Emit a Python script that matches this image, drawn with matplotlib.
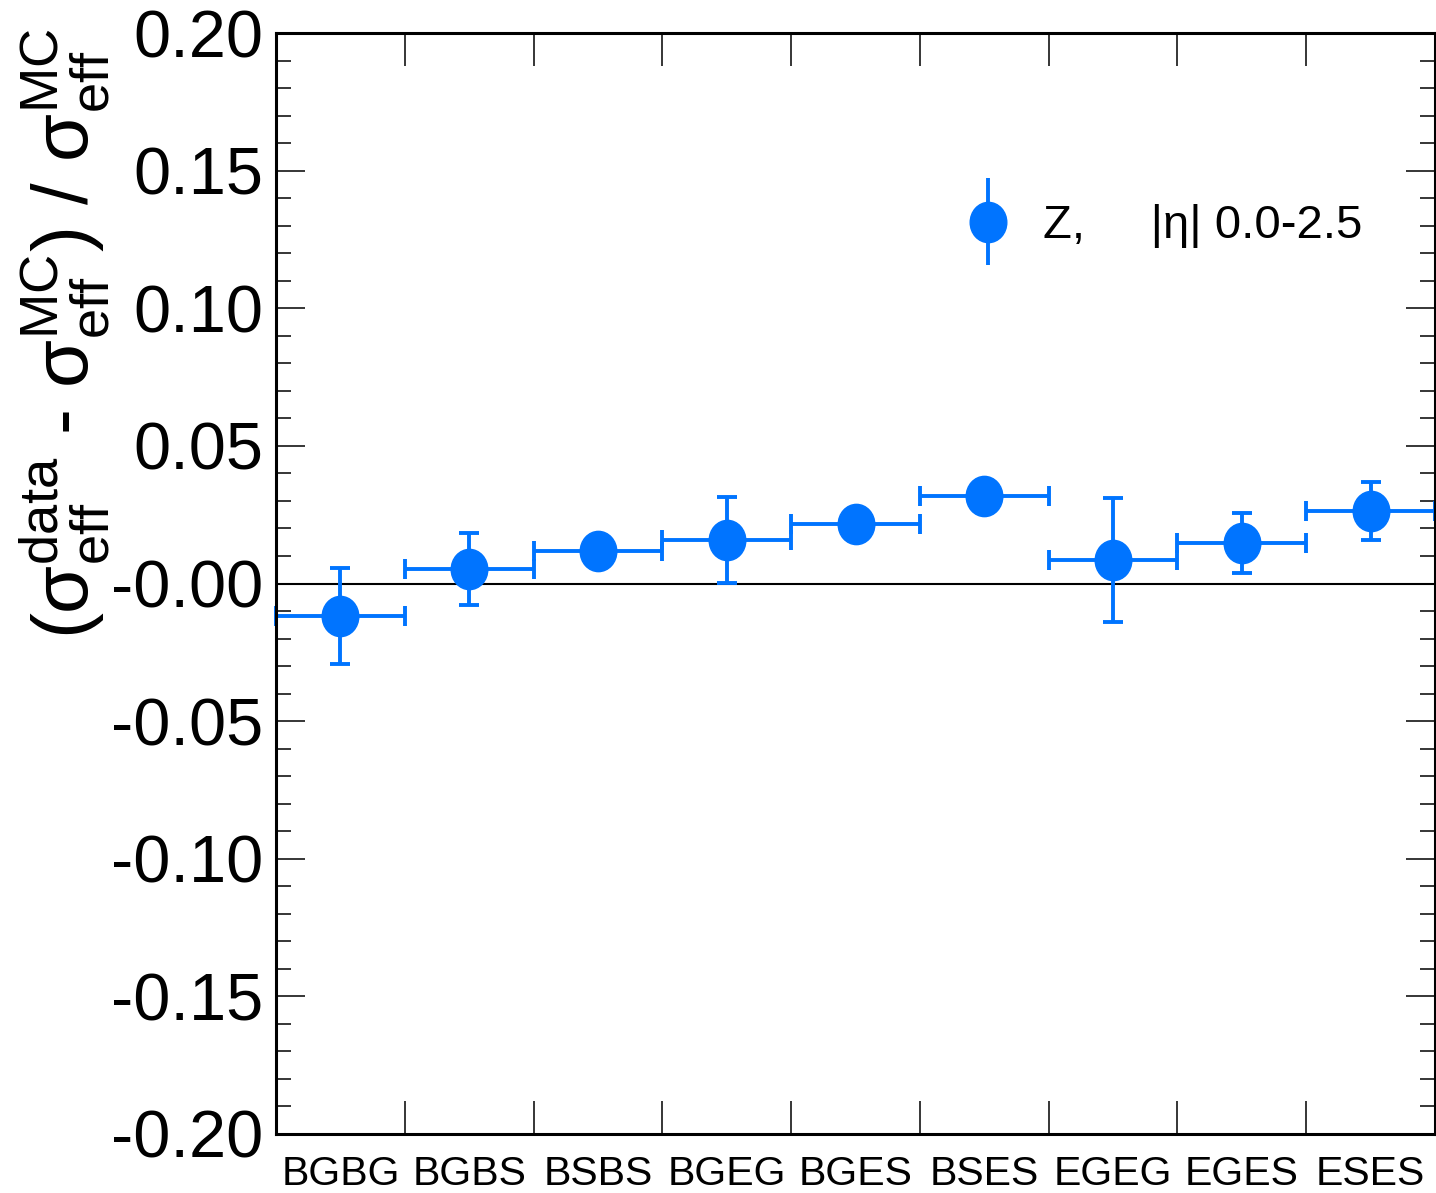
import matplotlib
matplotlib.use("Agg")
import matplotlib.pyplot as plt
import numpy as np
from matplotlib.path import Path
from matplotlib.transforms import Affine2D
from matplotlib.legend_handler import HandlerErrorbar

plt.rcParams['font.family'] = ['Liberation Sans', 'DejaVu Sans']
plt.rcParams['mathtext.fontset'] = 'custom'
plt.rcParams['mathtext.rm'] = 'Liberation Sans'
plt.rcParams['mathtext.it'] = 'Liberation Sans'
plt.rcParams['mathtext.bf'] = 'Liberation Sans:bold'

categories = ["BGBG", "BGBS", "BSBS", "BGEG", "BGES", "BSES", "EGEG", "EGES", "ESES"]
values = [-0.0118, 0.0053, 0.0118, 0.0158, 0.0216, 0.0318, 0.0085, 0.0147, 0.0263]
errors = [0.0175, 0.0130, 0.0040, 0.0155, 0.0025, 0.0010, 0.0225, 0.0110, 0.0104]
ytick_vals = [0.20, 0.15, 0.10, 0.05, 0.0, -0.05, -0.10, -0.15, -0.20]
ytick_labels = ["0.20", "0.15", "0.10", "0.05", "-0.00", "-0.05", "-0.10", "-0.15", "-0.20"]
legend_label = "Z,     |\u03b7| 0.0-2.5"

color = "#0074ff"
W, H = 1436, 1193
fig = plt.figure(figsize=(W / 100, H / 100), dpi=100)
ax = fig.add_axes([276 / W, 1 - 1134 / H, (1435 - 276) / W, (1134 - 33) / H])

# slightly tall ellipse marker
circ = Path.unit_circle()
ell = Affine2D().scale(1.0, 1.1).transform_path(circ)

x = np.arange(len(categories))
ax.axhline(0, color="black", lw=1.5, zorder=1)
ax.errorbar(x, values, yerr=errors, xerr=0.5, fmt="none", ecolor=color,
            elinewidth=2.8, capsize=7, capthick=2.8, zorder=2, clip_on=False)
ax.plot(x, values, linestyle="none", marker=ell, markersize=29, color=color, zorder=3)

# legend proxy
proxy = ax.errorbar([], [], yerr=[], fmt="o", marker=ell, markersize=29, color=color,
                    ecolor=color, elinewidth=2.8, capsize=0)
leg = ax.legend([proxy], [legend_label], loc="center left",
                bbox_to_anchor=(0.594, 0.8244), frameon=False, fontsize=34,
                handlelength=1.0, handletextpad=0.67, borderpad=0, borderaxespad=0,
                handler_map={type(proxy): HandlerErrorbar(xerr_size=0.5, yerr_size=0.92)})

ax.set_xlim(-0.5, len(categories) - 0.5)
ax.set_ylim(-0.2, 0.2)

# y ticks
ax.set_yticks(ytick_vals)
ax.set_yticklabels(ytick_labels, fontsize=48)
ax.yaxis.set_minor_locator(matplotlib.ticker.MultipleLocator(0.01))
ax.tick_params(axis="y", which="major", direction="in", length=21, width=1.1,
               left=True, right=True, pad=9)
ax.tick_params(axis="y", which="minor", direction="in", length=10.5, width=1.1,
               left=True, right=True)

# x ticks: edges as minor ticks (drawn), centers for labels
ax.set_xticks(x)
ax.set_xticklabels(categories, fontsize=29.5)
ax.set_xticks(np.arange(0.5, len(categories) - 0.5, 1.0), minor=True)
ax.tick_params(axis="x", which="major", length=0, pad=15)
ax.tick_params(axis="x", which="minor", direction="in", length=24, width=1.1,
               top=True, bottom=True)

for s in ax.spines.values():
    s.set_linewidth(2.2)

fig.text(65 / W, 1 - 28 / H,
         r"($\mathrm{\sigma}_{\mathrm{eff}}^{\mathrm{data}}$ - $\mathrm{\sigma}_{\mathrm{eff}}^{\mathrm{MC}}$) / $\mathrm{\sigma}_{\mathrm{eff}}^{\mathrm{MC}}$",
         rotation=90, ha="center", va="top", fontsize=56)

fig.savefig("out.png", dpi=100)
